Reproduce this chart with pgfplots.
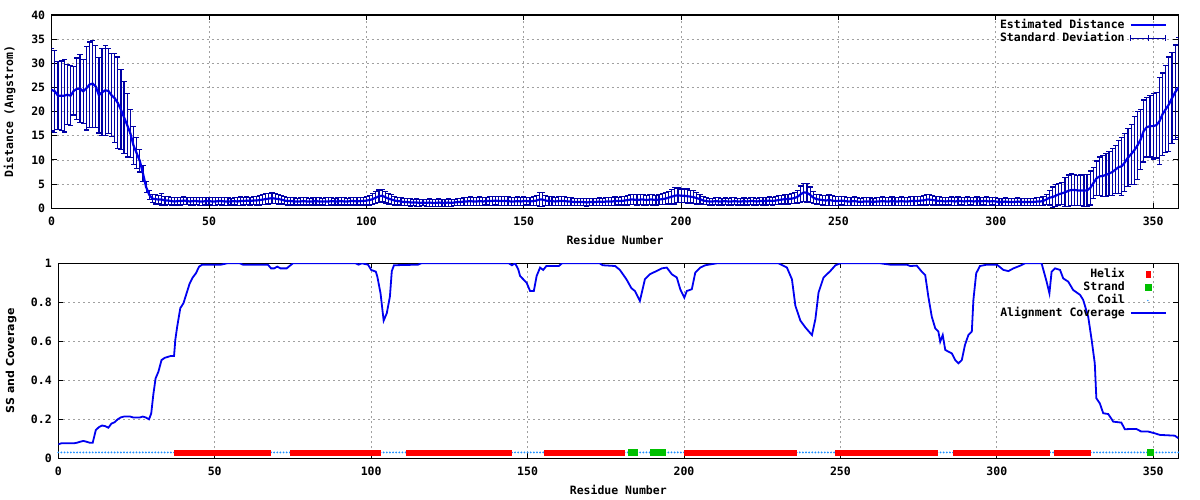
\documentclass[border=0pt]{standalone}
\usepackage{fontspec}
\setmainfont{DejaVu Sans Mono}
\newfontfamily\sansfam{DejaVu Sans}
\usepackage{pgfplots}
\pgfplotsset{compat=1.18}
\usepackage{pgfplotstable}

\definecolor{lineblue}{RGB}{0,0,240}
\definecolor{errnavy}{RGB}{0,0,165}
\definecolor{gridgray}{RGB}{160,160,160}
\definecolor{helixred}{RGB}{255,0,0}
\definecolor{strandgreen}{RGB}{0,192,0}
\definecolor{coilblue}{RGB}{30,144,255}

\newcommand{\gfont}{\fontsize{11.5}{13}\selectfont\bfseries}

% residue, estimated distance, standard deviation
\pgfplotstableread[row sep=\\]{
x y e\\
0 24.5 8.5\\ 1 24.2 8.5\\ 2 23.3 7.0\\ 3 23.3 7.2\\ 4 23.3 7.5\\ 5 23.5 6.2\\ 6 23.3 6.2\\ 7 24.3 5.0\\ 8 24.7 6.4\\ 9 24.8 7.0\\
10 24.2 6.6\\ 11 24.8 8.6\\ 12 25.6 8.8\\ 13 25.8 9.0\\ 14 25.2 8.5\\ 15 23.4 7.8\\ 16 24.0 9.0\\ 17 24.4 9.3\\ 18 24.3 8.8\\ 19 23.4 8.6\\
20 22.8 9.2\\ 21 21.8 9.5\\ 22 20.4 8.3\\ 23 18.8 7.5\\ 24 17.2 6.6\\ 25 15.5 5.0\\ 26 13.0 4.0\\ 27 11.4 3.2\\ 28 9.8 2.3\\ 29 7.2 1.6\\
30 4.4 1.2\\ 31 2.8 0.9\\ 32 2.0 0.8\\ 33 1.9 1.0\\ 34 1.8 0.9\\ 35 1.8 1.3\\ 36 1.6 0.9\\ 37 1.6 0.8\\ 38 1.5 0.8\\ 39 1.4 0.9\\
40 1.5 0.8\\ 41 1.5 0.8\\ 42 1.6 0.8\\ 43 1.5 0.7\\ 44 1.4 0.8\\ 45 1.5 0.8\\ 46 1.5 0.7\\ 47 1.4 0.8\\ 48 1.4 0.8\\ 49 1.5 0.8\\
50 1.5 0.7\\ 51 1.4 0.8\\ 52 1.4 0.8\\ 53 1.5 0.7\\ 54 1.5 0.8\\ 55 1.4 0.8\\ 56 1.4 0.8\\ 57 1.4 0.7\\ 58 1.5 0.8\\ 59 1.4 0.8\\
60 1.5 0.9\\ 61 1.5 0.8\\ 62 1.6 0.8\\ 63 1.5 0.8\\ 64 1.6 0.8\\ 65 1.6 0.9\\ 66 1.7 1.0\\ 67 1.8 1.0\\ 68 1.9 1.1\\ 69 2.0 1.1\\
70 2.1 1.1\\ 71 2.0 1.0\\ 72 1.9 1.0\\ 73 1.8 0.9\\ 74 1.6 0.8\\ 75 1.5 0.8\\ 76 1.5 0.8\\ 77 1.4 0.8\\ 78 1.4 0.7\\ 79 1.4 0.8\\
80 1.5 0.8\\ 81 1.4 0.8\\ 82 1.4 0.7\\ 83 1.4 0.8\\ 84 1.5 0.8\\ 85 1.4 0.8\\ 86 1.4 0.7\\ 87 1.4 0.8\\ 88 1.4 0.8\\ 89 1.5 0.8\\
90 1.4 0.7\\ 91 1.4 0.8\\ 92 1.5 0.8\\ 93 1.4 0.8\\ 94 1.4 0.7\\ 95 1.5 0.8\\ 96 1.5 0.8\\ 97 1.4 0.8\\ 98 1.5 0.8\\ 99 1.5 0.8\\
100 1.6 0.9\\ 101 1.7 1.0\\ 102 1.9 1.1\\ 103 2.2 1.2\\ 104 2.5 1.3\\ 105 2.6 1.3\\ 106 2.3 1.2\\ 107 2.0 1.1\\ 108 1.8 1.0\\ 109 1.6 0.9\\
110 1.5 0.8\\ 111 1.4 0.8\\ 112 1.3 0.8\\ 113 1.3 0.8\\ 114 1.2 0.8\\ 115 1.2 0.7\\ 116 1.2 0.8\\ 117 1.1 0.8\\ 118 1.2 0.7\\ 119 1.1 0.8\\
120 1.2 0.8\\ 121 1.1 0.7\\ 122 1.1 0.8\\ 123 1.2 0.8\\ 124 1.1 0.7\\ 125 1.1 0.8\\ 126 1.2 0.8\\ 127 1.1 0.8\\ 128 1.2 0.7\\ 129 1.3 0.8\\
130 1.3 0.8\\ 131 1.4 0.9\\ 132 1.4 0.8\\ 133 1.5 0.9\\ 134 1.4 0.8\\ 135 1.4 0.8\\ 136 1.5 0.9\\ 137 1.4 0.8\\ 138 1.5 0.8\\ 139 1.5 0.9\\
140 1.5 0.9\\ 141 1.6 0.9\\ 142 1.5 1.0\\ 143 1.5 0.9\\ 144 1.5 0.9\\ 145 1.5 0.9\\ 146 1.4 0.8\\ 147 1.4 0.8\\ 148 1.5 0.9\\ 149 1.4 0.8\\
150 1.5 0.9\\ 151 1.5 0.8\\ 152 1.4 0.8\\ 153 1.5 0.9\\ 154 1.6 1.0\\ 155 1.8 1.5\\ 156 1.8 1.4\\ 157 1.6 1.0\\ 158 1.5 0.9\\ 159 1.5 1.0\\
160 1.4 0.9\\ 161 1.5 1.0\\ 162 1.5 0.9\\ 163 1.5 1.0\\ 164 1.4 0.8\\ 165 1.4 0.9\\ 166 1.3 0.8\\ 167 1.3 0.8\\ 168 1.3 0.7\\ 169 1.3 0.8\\
170 1.2 0.8\\ 171 1.3 0.8\\ 172 1.3 0.7\\ 173 1.3 0.8\\ 174 1.4 0.8\\ 175 1.3 0.7\\ 176 1.4 0.8\\ 177 1.4 0.8\\ 178 1.4 0.8\\ 179 1.5 0.9\\
180 1.5 0.8\\ 181 1.5 0.9\\ 182 1.6 0.9\\ 183 1.7 1.0\\ 184 1.8 1.0\\ 185 1.8 1.0\\ 186 1.7 1.1\\ 187 1.8 1.0\\ 188 1.8 1.1\\ 189 1.7 1.0\\
190 1.8 1.0\\ 191 1.8 1.1\\ 192 1.7 1.0\\ 193 1.8 1.0\\ 194 1.9 1.1\\ 195 2.0 1.2\\ 196 2.2 1.3\\ 197 2.4 1.5\\ 198 2.6 1.7\\ 199 2.7 1.5\\
200 2.6 1.4\\ 201 2.6 1.4\\ 202 2.5 1.5\\ 203 2.4 1.3\\ 204 2.3 1.3\\ 205 2.1 1.2\\ 206 1.9 1.0\\ 207 1.6 0.8\\ 208 1.5 0.7\\ 209 1.4 0.7\\
210 1.4 0.7\\ 211 1.5 0.7\\ 212 1.4 0.8\\ 213 1.4 0.7\\ 214 1.5 0.7\\ 215 1.4 0.7\\ 216 1.4 0.8\\ 217 1.5 0.7\\ 218 1.4 0.7\\ 219 1.4 0.7\\
220 1.5 0.8\\ 221 1.4 0.7\\ 222 1.5 0.7\\ 223 1.5 0.8\\ 224 1.4 0.7\\ 225 1.5 0.7\\ 226 1.5 0.8\\ 227 1.5 0.8\\ 228 1.6 0.8\\ 229 1.5 0.8\\
230 1.6 0.8\\ 231 1.7 0.9\\ 232 1.8 0.9\\ 233 1.9 1.0\\ 234 1.9 1.0\\ 235 2.0 1.0\\ 236 2.1 1.1\\ 237 2.4 1.3\\ 238 2.9 1.7\\ 239 3.3 1.9\\
240 3.2 1.9\\ 241 2.8 1.6\\ 242 2.2 1.2\\ 243 1.9 1.0\\ 244 1.8 1.0\\ 245 1.7 1.0\\ 246 1.6 1.0\\ 247 1.7 1.1\\ 248 1.6 1.0\\ 249 1.5 0.9\\
250 1.5 1.0\\ 251 1.6 0.9\\ 252 1.5 0.9\\ 253 1.4 0.9\\ 254 1.4 0.8\\ 255 1.5 0.9\\ 256 1.4 0.9\\ 257 1.3 0.8\\ 258 1.4 0.9\\ 259 1.4 0.8\\
260 1.4 0.9\\ 261 1.3 0.8\\ 262 1.4 0.9\\ 263 1.4 0.9\\ 264 1.5 0.9\\ 265 1.4 0.8\\ 266 1.4 0.9\\ 267 1.5 0.9\\ 268 1.4 0.8\\ 269 1.4 0.9\\
270 1.5 0.9\\ 271 1.4 0.8\\ 272 1.4 0.9\\ 273 1.5 0.9\\ 274 1.5 0.9\\ 275 1.5 1.0\\ 276 1.6 0.9\\ 277 1.6 1.0\\ 278 1.8 1.1\\ 279 1.8 1.0\\
280 1.7 1.0\\ 281 1.6 0.9\\ 282 1.5 0.9\\ 283 1.5 0.8\\ 284 1.4 0.9\\ 285 1.5 0.8\\ 286 1.5 0.9\\ 287 1.4 0.8\\ 288 1.5 0.9\\ 289 1.5 0.8\\
290 1.4 0.8\\ 291 1.5 0.9\\ 292 1.5 0.8\\ 293 1.4 0.8\\ 294 1.5 0.9\\ 295 1.4 0.8\\ 296 1.5 0.8\\ 297 1.5 0.9\\ 298 1.4 0.8\\ 299 1.5 0.8\\
300 1.4 0.8\\ 301 1.3 0.8\\ 302 1.3 0.8\\ 303 1.4 0.8\\ 304 1.3 0.7\\ 305 1.3 0.8\\ 306 1.3 0.8\\ 307 1.4 0.8\\ 308 1.3 0.7\\ 309 1.3 0.8\\
310 1.3 0.8\\ 311 1.3 0.8\\ 312 1.3 0.7\\ 313 1.4 0.8\\ 314 1.4 0.8\\ 315 1.5 0.9\\ 316 1.8 1.0\\ 317 2.2 1.5\\ 318 2.3 2.1\\ 319 2.6 2.3\\
320 2.9 2.2\\ 321 3.1 2.3\\ 322 3.3 3.0\\ 323 3.6 3.3\\ 324 3.8 3.3\\ 325 3.8 3.2\\ 326 3.7 3.1\\ 327 3.7 3.2\\ 328 3.7 3.3\\ 329 3.7 3.3\\
330 4.2 3.5\\ 331 5.2 3.2\\ 332 6.2 3.6\\ 333 6.6 4.0\\ 334 6.7 4.3\\ 335 6.9 4.5\\ 336 7.2 4.5\\ 337 7.5 4.8\\ 338 8.0 5.0\\ 339 8.5 5.5\\
340 8.7 6.0\\ 341 9.5 6.0\\ 342 10.5 6.0\\ 343 11.2 6.2\\ 344 12.0 7.0\\ 345 13.0 7.0\\ 346 14.2 6.2\\ 347 16.0 6.4\\ 348 16.8 6.2\\ 349 17.0 6.4\\
350 17.0 6.8\\ 351 17.2 6.8\\ 352 18.0 9.0\\ 353 19.5 8.5\\ 354 20.5 9.0\\ 355 21.5 9.8\\ 356 22.8 9.4\\ 357 24.0 9.8\\ 358 25.0 10.3\\
}\disttable

% residue, alignment coverage
\pgfplotstableread[row sep=\\]{
x c\\
0 0.072\\ 1 0.077\\ 5 0.077\\ 6 0.080\\ 7 0.085\\ 8 0.089\\ 9 0.085\\ 10 0.080\\ 11 0.080\\ 12 0.145\\
13 0.160\\ 14 0.168\\ 15 0.165\\ 16 0.157\\ 17 0.178\\ 18 0.185\\ 19 0.200\\ 20 0.210\\ 21 0.214\\ 23 0.214\\
24 0.209\\ 26 0.209\\ 27 0.214\\ 28 0.209\\ 29 0.200\\ 29.7 0.230\\ 30.4 0.330\\ 31.1 0.410\\ 32 0.444\\ 33 0.504\\
34 0.515\\ 36 0.525\\ 37 0.525\\ 37.4 0.607\\ 38 0.675\\ 39 0.770\\ 40 0.795\\ 41 0.846\\ 42 0.897\\ 43 0.928\\
44 0.949\\ 45 0.983\\ 46 0.993\\ 52 0.993\\ 54 1\\ 58 1\\ 59 0.993\\ 67 0.993\\ 68 0.974\\ 69 0.974\\
70 0.983\\ 71 0.974\\ 73 0.974\\ 75 1\\ 95 1\\ 96 0.993\\ 97 1\\ 99 0.993\\ 100 0.966\\ 101.5 0.957\\
102 0.930\\ 103 0.846\\ 104 0.706\\ 105 0.744\\ 106 0.830\\ 106.6 0.960\\ 107.3 0.990\\ 115 0.993\\ 116 1\\ 144 1\\
145 0.990\\ 146 1\\ 147 0.970\\ 147.6 0.935\\ 149.7 0.900\\ 150.8 0.858\\ 152 0.858\\ 152.9 0.935\\ 154 0.978\\ 155 0.966\\
156 0.986\\ 160 0.986\\ 161 1\\ 173 1\\ 174 0.990\\ 178 0.986\\ 179.5 0.966\\ 181.6 0.918\\ 183.2 0.872\\ 184.3 0.858\\
185.9 0.807\\ 187.5 0.918\\ 189.1 0.944\\ 191.3 0.961\\ 192.9 0.974\\ 194.5 0.978\\ 196.1 0.944\\ 197.7 0.927\\ 198.8 0.867\\ 200.1 0.824\\
200.9 0.858\\ 202.5 0.867\\ 203.6 0.952\\ 205.2 0.978\\ 206.8 0.990\\ 210.5 1\\ 230.2 1\\ 232.9 0.978\\ 234.5 0.918\\ 235.6 0.782\\
237.2 0.706\\ 238.8 0.671\\ 240.9 0.632\\ 242 0.714\\ 243 0.850\\ 244.6 0.927\\ 246.8 0.961\\ 248.4 0.990\\ 250 1\\ 262.7 1\\
265.9 0.993\\ 271.2 0.993\\ 272.3 0.986\\ 274.4 0.988\\ 276 0.957\\ 277.1 0.940\\ 278.1 0.829\\ 279.2 0.726\\ 280.3 0.667\\ 281.3 0.650\\
281.9 0.598\\ 282.7 0.632\\ 283.5 0.556\\ 284.5 0.547\\ 285.6 0.538\\ 286.7 0.504\\ 287.7 0.487\\ 288.8 0.504\\ 289.8 0.581\\ 290.9 0.632\\
292 0.650\\ 292.5 0.812\\ 293.4 0.949\\ 294.6 0.986\\ 296.8 0.993\\ 300 0.993\\ 302.1 0.966\\ 303.7 0.960\\ 305.3 0.974\\ 307.5 0.988\\
309 1\\ 314.3 1\\ 315.9 0.906\\ 316.8 0.846\\ 317.5 0.957\\ 318.6 0.974\\ 320.2 0.966\\ 321.2 0.923\\ 322.8 0.906\\ 324.4 0.863\\
326.6 0.838\\ 327.6 0.812\\ 329.2 0.726\\ 330.3 0.607\\ 331.3 0.487\\ 331.8 0.308\\ 332.9 0.282\\ 334 0.231\\ 335.6 0.227\\ 337.2 0.188\\
339.8 0.183\\ 340.9 0.149\\ 342.5 0.150\\ 344.6 0.150\\ 346.2 0.137\\ 348.4 0.137\\ 350.5 0.128\\ 352.1 0.120\\ 356.9 0.116\\ 358 0.103\\
}\covtable

\pgfplotsset{gnu/.style={
  scale only axis, xmin=0, xmax=358,
  xtick={0,50,...,350},
  tick align=inside, major tick length=5pt,
  every tick/.style={black, line width=1pt},
  axis line style={black, line width=1.2pt},
  grid=major, grid style={gridgray, line width=0.8pt, dash pattern=on 2pt off 3pt},
  tick label style={font=\gfont},
  label style={font=\gfont},
  /pgf/number format/assume math mode=true,
  xticklabel style={yshift=-5pt},
  yticklabel style={xshift=-3pt},
  legend plot pos=right, legend cell align=right,
  legend style={draw=none, fill=none, anchor=north east, inner sep=0pt,
    row sep=0pt, column sep=4pt, font=\gfont,
    nodes={inner sep=1pt, text height=8.5pt, text depth=2.5pt}},
}}

\begin{document}
\begin{tikzpicture}
\useasboundingbox (0pt,0pt) rectangle (1200pt,500pt);

\begin{axis}[gnu, at={(51.7pt,291.7pt)}, anchor=south west,
  width=1126.6pt, height=193.3pt,
  ymin=0, ymax=40, ytick={0,5,...,40},
  xlabel={Residue Number}, ylabel={Distance (Angstrom)},
  xlabel style={at={(axis description cs:0.5,-0.166)}, anchor=center},
  ylabel style={at={(axis description cs:-0.0373,0.5)}, anchor=center},
  legend style={at={(0.990,0.982)}}]
\addlegendimage{legend image code/.code={\draw[draw=lineblue, line width=2.2pt] (0pt,0pt) -- (35pt,0pt);}}
\addlegendentry{Estimated Distance}
\addlegendimage{legend image code/.code={
  \draw[draw=errnavy, line width=1.2pt] (0pt,0pt) -- (35pt,0pt);
  \draw[draw=errnavy, line width=1.2pt] (0pt,-3pt) -- (0pt,3pt) (17.5pt,-3pt) -- (17.5pt,3pt) (35pt,-3pt) -- (35pt,3pt);}}
\addlegendentry{Standard Deviation}
% error bars (bars only; the caps are drawn below)
\addplot[errnavy, only marks, mark=*, mark size=0.5pt, forget plot,
  error bars/.cd, y dir=both, y explicit, error mark=none,
  error bar style={draw=errnavy, line width=1.2pt}]
  table[x=x, y=y, y error=e]{\disttable};
% caps at mean + sd and mean - sd
\addplot[errnavy, only marks, mark=-, mark size=2.6pt, clip marker paths=true,
  mark options={line width=1.2pt}, forget plot]
  table[x=x, y expr=\thisrow{y}+\thisrow{e}]{\disttable};
\addplot[errnavy, only marks, mark=-, mark size=2.6pt, clip marker paths=true,
  restrict y to domain=0:40, mark options={line width=1.2pt}, forget plot]
  table[x=x, y expr=\thisrow{y}-\thisrow{e}]{\disttable};
\addplot[lineblue, line width=2.2pt, forget plot] table[x=x, y=y]{\disttable};
\end{axis}

\begin{axis}[gnu, at={(58.3pt,41.7pt)}, anchor=south west,
  width=1120pt, height=195pt,
  ymin=0, ymax=1, ytick={0,0.2,0.4,0.6,0.8,1},
  xlabel={Residue Number}, ylabel={SS and Coverage},
  xlabel style={at={(axis description cs:0.5,-0.163)}, anchor=center},
  ylabel style={at={(axis description cs:-0.0422,0.5)}, anchor=center,
    font=\sansfam\bfseries\fontsize{11}{13}\selectfont},
  legend style={at={(0.990,0.977)}}]
\addlegendimage{legend image code/.code={\fill[draw=none, fill=helixred] (15pt,-3.5pt) rectangle (20pt,3.5pt);}}
\addlegendentry{Helix}
\addlegendimage{legend image code/.code={\fill[draw=none, fill=strandgreen] (14pt,-3.2pt) rectangle (21pt,3.2pt);}}
\addlegendentry{Strand}
\addlegendimage{legend image code/.code={\fill[draw=none, fill=coilblue] (17pt,0pt) circle (0.8pt);}}
\addlegendentry{Coil}
\addlegendimage{legend image code/.code={\draw[draw=lineblue, line width=2pt] (0pt,0pt) -- (35pt,0pt);}}
\addlegendentry{Alignment Coverage}
% coil
\addplot[only marks, mark=*, mark size=0.7pt, color=coilblue, forget plot] coordinates {
(0,.03)(1,.03)(2,.03)(3,.03)(4,.03)(5,.03)(6,.03)(7,.03)(8,.03)(9,.03)
(10,.03)(11,.03)(12,.03)(13,.03)(14,.03)(15,.03)(16,.03)(17,.03)(18,.03)(19,.03)
(20,.03)(21,.03)(22,.03)(23,.03)(24,.03)(25,.03)(26,.03)(27,.03)(28,.03)(29,.03)
(30,.03)(31,.03)(32,.03)(33,.03)(34,.03)(35,.03)(36,.03)(37,.03)
(68,.03)(69,.03)(70,.03)(71,.03)(72,.03)(73,.03)(74,.03)
(103,.03)(104,.03)(105,.03)(106,.03)(107,.03)(108,.03)(109,.03)(110,.03)(111,.03)
(145,.03)(146,.03)(147,.03)(148,.03)(149,.03)(150,.03)(151,.03)(152,.03)(153,.03)(154,.03)(155,.03)
(181,.03)(182,.03)(185,.03)(186,.03)(187,.03)(188,.03)(189,.03)
(194,.03)(195,.03)(196,.03)(197,.03)(198,.03)(199,.03)(200,.03)
(236,.03)(237,.03)(238,.03)(239,.03)(240,.03)(241,.03)(242,.03)(243,.03)(244,.03)(245,.03)(246,.03)(247,.03)(248,.03)
(281,.03)(282,.03)(283,.03)(284,.03)(285,.03)(286,.03)
(317,.03)(318,.03)
(330,.03)(331,.03)(332,.03)(333,.03)(334,.03)(335,.03)(336,.03)(337,.03)(338,.03)(339,.03)
(340,.03)(341,.03)(342,.03)(343,.03)(344,.03)(345,.03)(346,.03)(347,.03)(348,.03)
(350,.03)(351,.03)(352,.03)(353,.03)(354,.03)(355,.03)(356,.03)(357,.03)(358,.03)
};
% helix
\addplot[only marks, mark=square*, mark size=2.6pt, color=helixred, forget plot] coordinates {
(38,.03)(39,.03)(40,.03)(41,.03)(42,.03)(43,.03)(44,.03)(45,.03)(46,.03)(47,.03)
(48,.03)(49,.03)(50,.03)(51,.03)(52,.03)(53,.03)(54,.03)(55,.03)(56,.03)(57,.03)
(58,.03)(59,.03)(60,.03)(61,.03)(62,.03)(63,.03)(64,.03)(65,.03)(66,.03)(67,.03)
(75,.03)(76,.03)(77,.03)(78,.03)(79,.03)(80,.03)(81,.03)(82,.03)(83,.03)(84,.03)
(85,.03)(86,.03)(87,.03)(88,.03)(89,.03)(90,.03)(91,.03)(92,.03)(93,.03)(94,.03)
(95,.03)(96,.03)(97,.03)(98,.03)(99,.03)(100,.03)(101,.03)(102,.03)
(112,.03)(113,.03)(114,.03)(115,.03)(116,.03)(117,.03)(118,.03)(119,.03)(120,.03)(121,.03)
(122,.03)(123,.03)(124,.03)(125,.03)(126,.03)(127,.03)(128,.03)(129,.03)(130,.03)(131,.03)
(132,.03)(133,.03)(134,.03)(135,.03)(136,.03)(137,.03)(138,.03)(139,.03)(140,.03)(141,.03)
(142,.03)(143,.03)(144,.03)
(156,.03)(157,.03)(158,.03)(159,.03)(160,.03)(161,.03)(162,.03)(163,.03)(164,.03)(165,.03)
(166,.03)(167,.03)(168,.03)(169,.03)(170,.03)(171,.03)(172,.03)(173,.03)(174,.03)(175,.03)
(176,.03)(177,.03)(178,.03)(179,.03)(180,.03)
(201,.03)(202,.03)(203,.03)(204,.03)(205,.03)(206,.03)(207,.03)(208,.03)(209,.03)(210,.03)
(211,.03)(212,.03)(213,.03)(214,.03)(215,.03)(216,.03)(217,.03)(218,.03)(219,.03)(220,.03)
(221,.03)(222,.03)(223,.03)(224,.03)(225,.03)(226,.03)(227,.03)(228,.03)(229,.03)(230,.03)
(231,.03)(232,.03)(233,.03)(234,.03)(235,.03)
(249,.03)(250,.03)(251,.03)(252,.03)(253,.03)(254,.03)(255,.03)(256,.03)(257,.03)(258,.03)
(259,.03)(260,.03)(261,.03)(262,.03)(263,.03)(264,.03)(265,.03)(266,.03)(267,.03)(268,.03)
(269,.03)(270,.03)(271,.03)(272,.03)(273,.03)(274,.03)(275,.03)(276,.03)(277,.03)(278,.03)
(279,.03)(280,.03)
(287,.03)(288,.03)(289,.03)(290,.03)(291,.03)(292,.03)(293,.03)(294,.03)(295,.03)(296,.03)
(297,.03)(298,.03)(299,.03)(300,.03)(301,.03)(302,.03)(303,.03)(304,.03)(305,.03)(306,.03)
(307,.03)(308,.03)(309,.03)(310,.03)(311,.03)(312,.03)(313,.03)(314,.03)(315,.03)(316,.03)
(319,.03)(320,.03)(321,.03)(322,.03)(323,.03)(324,.03)(325,.03)(326,.03)(327,.03)(328,.03)(329,.03)
};
% strand
\addplot[only marks, mark=square*, mark size=2.9pt, color=strandgreen, forget plot] coordinates {
(183,.03)(184,.03)(190,.03)(191,.03)(192,.03)(193,.03)(349,.03)
};
\addplot[lineblue, line width=1.8pt, forget plot] table[x=x, y=c]{\covtable};
\end{axis}
\end{tikzpicture}
\end{document}
